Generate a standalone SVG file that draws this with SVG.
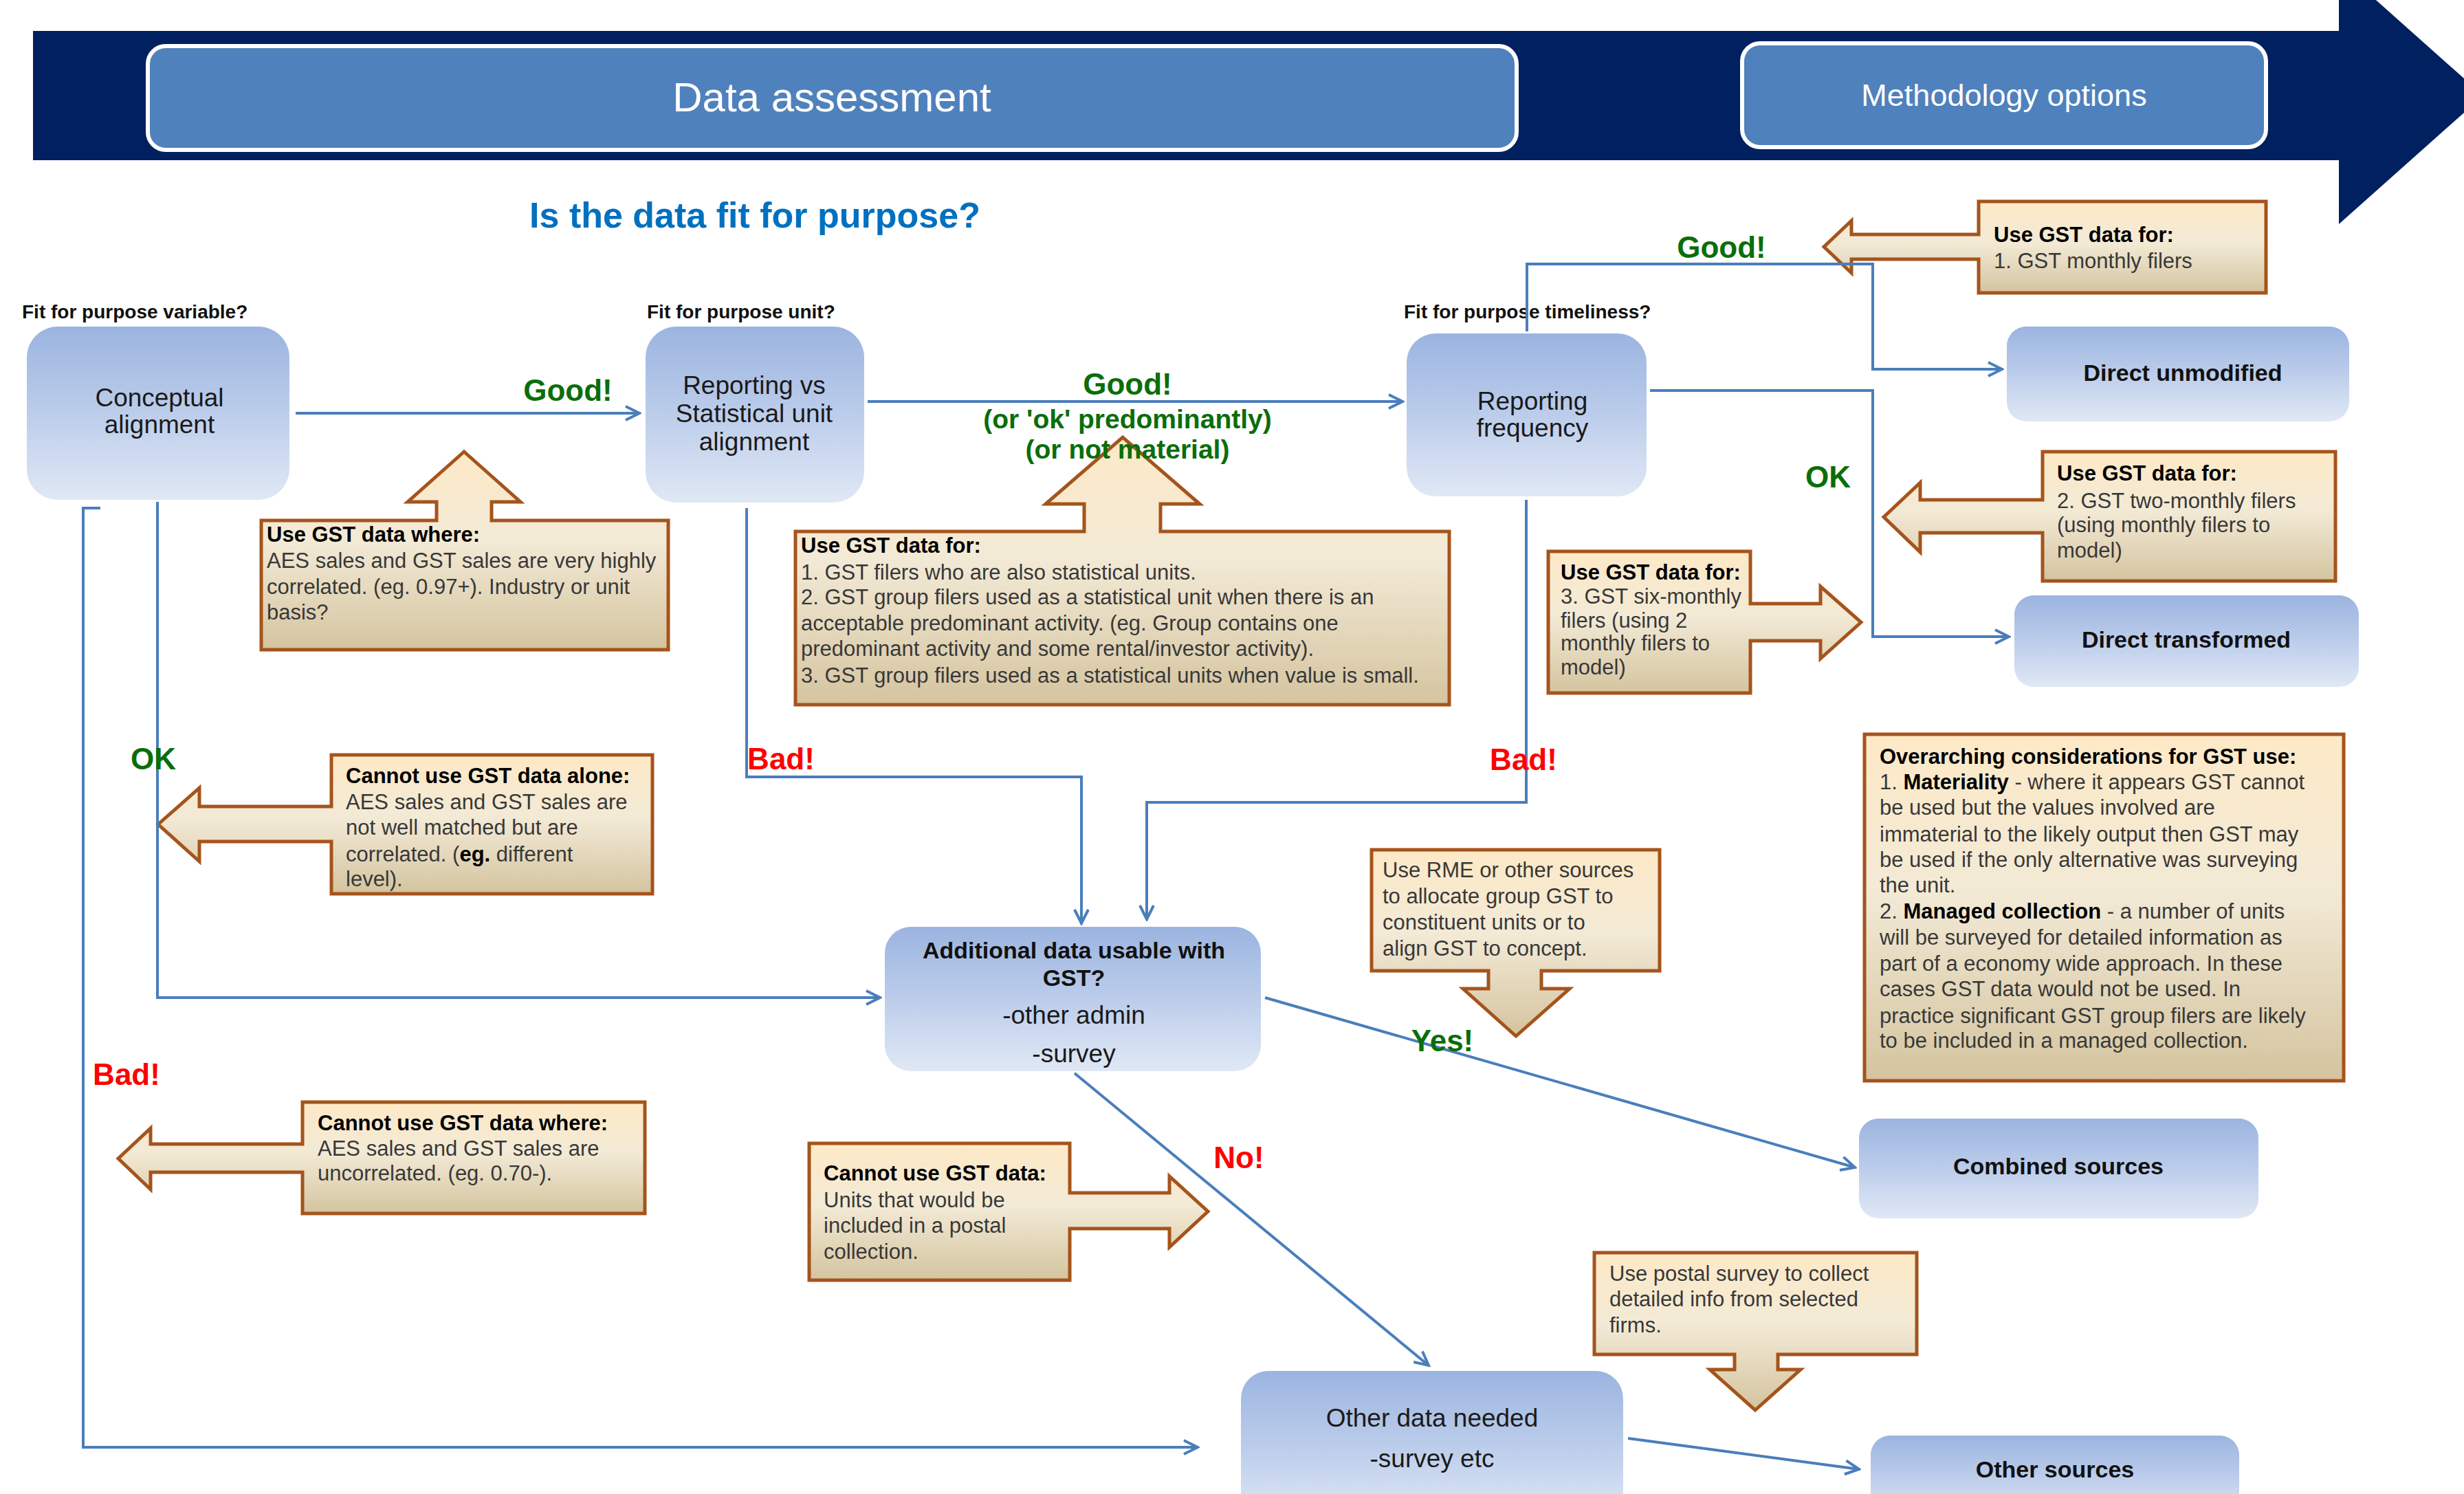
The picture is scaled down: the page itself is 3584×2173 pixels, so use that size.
<svg xmlns="http://www.w3.org/2000/svg" width="3584" height="2173" viewBox="0 0 3584 2173">
<defs>
<linearGradient id="nodeGrad" x1="0" y1="0" x2="0" y2="1">
<stop offset="0" stop-color="#9bb4e0"/>
<stop offset="0.5" stop-color="#bccdeb"/>
<stop offset="1" stop-color="#e0e8f5"/>
</linearGradient>
<linearGradient id="coGrad" x1="0" y1="0" x2="0" y2="1">
<stop offset="0" stop-color="#fde9c6"/>
<stop offset="0.45" stop-color="#f3ead6"/>
<stop offset="1" stop-color="#d4c49f"/>
</linearGradient>
<marker id="arr" viewBox="-24 -13 27 26" refX="0" refY="0" markerWidth="27" markerHeight="26" markerUnits="userSpaceOnUse" orient="auto">
<path d="M-20,-10 L0,0 L-20,10" fill="none" stroke="#4a7ebb" stroke-width="4"/>
</marker>
<style>
text{font-family:"Liberation Sans",Arial,sans-serif}
.node rect{fill:url(#nodeGrad);stroke:none}
.nt{font-size:37px;fill:#1a1a1a;text-anchor:middle}
.ntb{font-size:34px;font-weight:bold;fill:#111;text-anchor:middle}
.co path,.co rect{fill:url(#coGrad);stroke:#a5541c;stroke-width:5;stroke-linejoin:miter}
.ct{font-size:31px;fill:#383838}
.ch{font-size:31px;font-weight:bold;fill:#000}
.b{font-weight:bold;fill:#000}
.conn{fill:none;stroke:#4a7ebb;stroke-width:4}
.good{font-size:44px;font-weight:bold;fill:#0a6e0a;text-anchor:middle}
.good2{font-size:39px;font-weight:bold;fill:#0a6e0a;text-anchor:middle}
.bad{font-size:44px;font-weight:bold;fill:#ff0000;text-anchor:middle}
.q{font-size:28px;font-weight:bold;fill:#111}
</style>
</defs>
<rect width="3584" height="2173" fill="#ffffff"/>

<g id="header">
<polygon points="48,45 3402,45 3402,-48 3612,139 3402,326 3402,233 48,233" fill="#002060"/>
<rect x="215" y="67" width="1991" height="151" rx="26" fill="#4f81bd" stroke="#ffffff" stroke-width="6"/>
<text x="1210" y="162" font-size="60" fill="#ffffff" text-anchor="middle">Data assessment</text>
<rect x="2534" y="63" width="762" height="151" rx="26" fill="#4f81bd" stroke="#ffffff" stroke-width="6"/>
<text x="2915" y="154" font-size="45" fill="#ffffff" text-anchor="middle">Methodology options</text>
</g>

<text x="1098" y="331" font-size="52" font-weight="bold" fill="#0070c0" text-anchor="middle">Is the data fit for purpose?</text>

<g id="questions">
<text class="q" x="32" y="463">Fit for purpose variable?</text>
<text class="q" x="941" y="463">Fit for purpose unit?</text>
<text class="q" x="2042" y="463">Fit for purpose timeliness?</text>
</g>

<g id="n-conceptual" class="node">
<rect x="39" y="475" width="382" height="252" rx="45"/>
<text class="nt" x="232" y="591">Conceptual</text>
<text class="nt" x="232" y="630">alignment</text>
</g>
<g id="n-reporting-vs" class="node">
<rect x="939" y="475" width="318" height="256" rx="45"/>
<text class="nt" x="1097" y="573">Reporting vs</text>
<text class="nt" x="1097" y="614">Statistical unit</text>
<text class="nt" x="1097" y="655">alignment</text>
</g>
<g id="n-frequency" class="node">
<rect x="2046" y="485" width="349" height="237" rx="42"/>
<text class="nt" x="2229" y="596">Reporting</text>
<text class="nt" x="2229" y="635">frequency</text>
</g>
<g id="n-direct-unmodified" class="node">
<rect x="2919" y="475" width="498" height="138" rx="28"/>
<text class="ntb" x="3175" y="554">Direct unmodified</text>
</g>
<g id="n-direct-transformed" class="node">
<rect x="2930" y="866" width="501" height="133" rx="28"/>
<text class="ntb" x="3180" y="942">Direct  transformed</text>
</g>
<g id="n-additional" class="node">
<rect x="1287" y="1348" width="547" height="210" rx="38"/>
<text class="ntb" x="1562" y="1394">Additional data usable with</text>
<text class="ntb" x="1562" y="1434">GST?</text>
<text class="nt" x="1562" y="1489">-other admin</text>
<text class="nt" x="1562" y="1545">-survey</text>
</g>
<g id="n-combined" class="node">
<rect x="2704" y="1627" width="581" height="145" rx="28"/>
<text class="ntb" x="2994" y="1708">Combined sources</text>
</g>
<g id="n-other-data" class="node">
<rect x="1805" y="1994" width="556" height="220" rx="40"/>
<text class="nt" x="2083" y="2075">Other data needed</text>
<text class="nt" x="2083" y="2134">-survey etc</text>
</g>
<g id="n-other-sources" class="node">
<rect x="2721" y="2088" width="536" height="120" rx="28"/>
<text class="ntb" x="2989" y="2149">Other sources</text>
</g>

<g id="c-use-where" class="co">
<path d="M380,757 H635 V730 H593 L675,657 L757,730 H715 V757 H972 V945 H380 Z"/>
<text class="ch" x="388" y="788">Use GST data where:</text>
<text class="ct" x="388" y="826">AES sales and GST sales are very highly</text>
<text class="ct" x="388" y="864">correlated.  (eg. 0.97+). Industry or unit</text>
<text class="ct" x="388" y="901">basis?</text>
</g>
<g id="c-use-for-units" class="co">
<path d="M1157,773 H1577 V733 H1521 L1633,636 L1745,733 H1688 V773 H2108 V1025 H1157 Z"/>
<text class="ch" x="1165" y="804">Use GST data for:</text>
<text class="ct" x="1165" y="843">1. GST filers who are also statistical units.</text>
<text class="ct" x="1165" y="879">2. GST group filers used as a statistical unit when there is an</text>
<text class="ct" x="1165" y="917">acceptable predominant  activity. (eg. Group contains one</text>
<text class="ct" x="1165" y="954">predominant  activity and  some rental/investor activity).</text>
<text class="ct" x="1165" y="993">3. GST group filers used as a statistical units when value is small.</text>
</g>
<g id="c-monthly" class="co">
<path d="M2878,293 H3296 V426 H2878 V377 H2693 V397 L2653,359 L2693,321 V341 H2878 Z"/>
<text class="ch" x="2900" y="352">Use GST data for:</text>
<text class="ct" x="2900" y="390">1. GST monthly  filers</text>
</g>
<g id="c-two-monthly" class="co">
<path d="M2971,657 H3397 V845 H2971 V775 H2793 V803 L2740,752 L2793,702 V727 H2971 Z"/>
<text class="ch" x="2992" y="699">Use GST data for:</text>
<text class="ct" x="2992" y="739">2. GST two-monthly  filers</text>
<text class="ct" x="2992" y="774">(using monthly  filers to</text>
<text class="ct" x="2992" y="811">model)</text>
</g>
<g id="c-six-monthly" class="co">
<path d="M2252,802 H2546 V878 H2648 V853 L2707,905 L2648,958 V932 H2546 V1008 H2252 Z"/>
<text class="ch" x="2270" y="843">Use GST data for:</text>
<text class="ct" x="2270" y="878">3. GST six-monthly</text>
<text class="ct" x="2270" y="913">filers (using 2</text>
<text class="ct" x="2270" y="946">monthly filers to</text>
<text class="ct" x="2270" y="981">model)</text>
</g>
<g id="c-alone" class="co">
<path d="M482,1098 H949 V1300 H482 V1224 H290 V1253 L230,1199 L290,1146 V1173 H482 Z"/>
<text class="ch" x="503" y="1139">Cannot use GST data alone:</text>
<text class="ct" x="503" y="1177">AES sales and GST sales are</text>
<text class="ct" x="503" y="1214">not  well matched but  are</text>
<text class="ct" x="503" y="1253">correlated. (<tspan class="b">eg.</tspan> different</text>
<text class="ct" x="503" y="1289">level).</text>
</g>
<g id="c-uncorrelated" class="co">
<path d="M440,1603 H938 V1765 H440 V1705 H219 V1730 L172,1685 L219,1641 V1664 H440 Z"/>
<text class="ch" x="462" y="1644">Cannot use GST data where:</text>
<text class="ct" x="462" y="1681">AES sales and GST sales are</text>
<text class="ct" x="462" y="1717">uncorrelated.  (eg. 0.70-).</text>
</g>
<g id="c-postal-units" class="co">
<path d="M1177,1663 H1556 V1735 H1701 V1711 L1757,1762 L1701,1814 V1787 H1556 V1862 H1177 Z"/>
<text class="ch" x="1198" y="1717">Cannot use GST data:</text>
<text class="ct" x="1198" y="1756">Units that would be</text>
<text class="ct" x="1198" y="1793">included in a  postal</text>
<text class="ct" x="1198" y="1831">collection.</text>
</g>
<g id="c-rme" class="co">
<path d="M1995,1236 H2414 V1412 H2242 V1438 H2283 L2205,1507 L2128,1438 H2165 V1412 H1995 Z"/>
<text class="ct" x="2011" y="1276">Use RME or other sources</text>
<text class="ct" x="2011" y="1314">to allocate group GST to</text>
<text class="ct" x="2011" y="1352">constituent units or to</text>
<text class="ct" x="2011" y="1390">align GST to concept.</text>
</g>
<g id="c-postal-survey" class="co">
<path d="M2319,1822 H2788 V1970 H2586 V1992 H2619 L2553,2051 L2487,1992 H2523 V1970 H2319 Z"/>
<text class="ct" x="2341" y="1863">Use postal survey to collect</text>
<text class="ct" x="2341" y="1900">detailed info from  selected</text>
<text class="ct" x="2341" y="1938">firms.</text>
</g>
<g id="c-overarching" class="co">
<rect x="2712" y="1068" width="697" height="504"/>
<text class="ch" x="2734" y="1111">Overarching considerations for GST use:</text>
<text class="ct" x="2734" y="1148">1. <tspan class="b">Materiality</tspan> - where it appears GST cannot</text>
<text class="ct" x="2734" y="1185">be used but the values involved are</text>
<text class="ct" x="2734" y="1224">immaterial to the likely output  then GST may</text>
<text class="ct" x="2734" y="1261">be used if the only alternative was surveying</text>
<text class="ct" x="2734" y="1298">the unit.</text>
<text class="ct" x="2734" y="1336">2. <tspan class="b">Managed collection</tspan> - a number of units</text>
<text class="ct" x="2734" y="1374">will be surveyed for detailed information  as</text>
<text class="ct" x="2734" y="1412">part of a economy  wide approach. In these</text>
<text class="ct" x="2734" y="1449">cases GST data would not be used. In</text>
<text class="ct" x="2734" y="1488">practice significant GST group filers are likely</text>
<text class="ct" x="2734" y="1524">to be included in a managed collection.</text>
</g>

<g id="connectors" class="conn" marker-end="url(#arr)">
<path d="M430,601 H930"/>
<path d="M1262,584 H2040"/>
<path d="M2221,482 V384 H2724 V537 H2912"/>
<path d="M2400,568 H2724 V926 H2922"/>
<path d="M229,730 V1451 H1280"/>
<path d="M146,739 H121 V2105 H1742"/>
<path d="M1086,739 V1130 H1573 V1343"/>
<path d="M2220,727 V1167 H1668 V1337"/>
<path d="M1840,1451 L2698,1698"/>
<path d="M1563,1561 L2078,1986"/>
<path d="M2368,2092 L2704,2137"/>
</g>

<g id="labels">
<text class="good" x="826" y="583">Good!</text>
<text class="good" x="1640" y="574">Good!</text>
<text class="good2" x="1640" y="623">(or 'ok' predominantly)</text>
<text class="good2" x="1640" y="667">(or not material)</text>
<text class="good" x="2504" y="375">Good!</text>
<text class="good" x="2659" y="709">OK</text>
<text class="good" x="223" y="1119">OK</text>
<text class="bad" x="1136" y="1119">Bad!</text>
<text class="bad" x="2216" y="1120">Bad!</text>
<text class="bad" x="184" y="1578">Bad!</text>
<text class="good" x="2098" y="1529">Yes!</text>
<text class="bad" x="1802" y="1699">No!</text>
</g>
</svg>
